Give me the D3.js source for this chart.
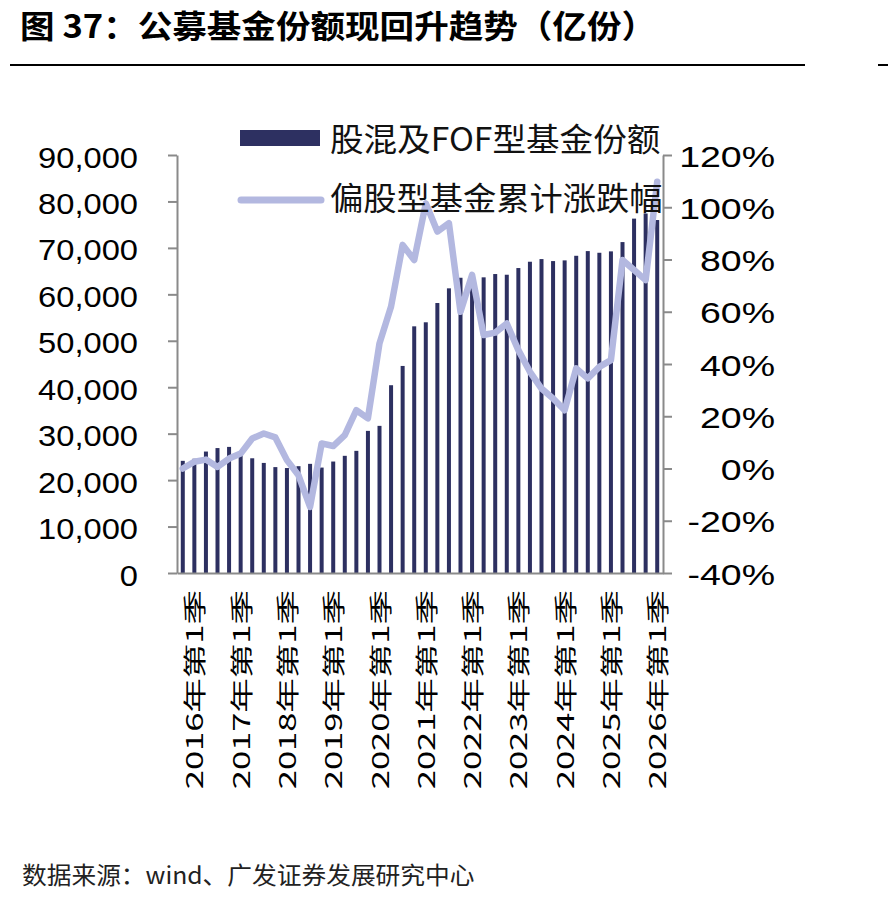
<!DOCTYPE html>
<html><head><meta charset="utf-8">
<script src="https://cdn.jsdelivr.net/npm/d3@7"></script>
<style>
html,body{margin:0;padding:0;background:#fff;}
svg{display:block;}
</style></head>
<body>
<svg id="c" width="888" height="904"></svg>
<script>
// ---- data ----
const quarters = [
 "2015年第4季",
 "2016年第1季","2016年第2季","2016年第3季","2016年第4季",
 "2017年第1季","2017年第2季","2017年第3季","2017年第4季",
 "2018年第1季","2018年第2季","2018年第3季","2018年第4季",
 "2019年第1季","2019年第2季","2019年第3季","2019年第4季",
 "2020年第1季","2020年第2季","2020年第3季","2020年第4季",
 "2021年第1季","2021年第2季","2021年第3季","2021年第4季",
 "2022年第1季","2022年第2季","2022年第3季","2022年第4季",
 "2023年第1季","2023年第2季","2023年第3季","2023年第4季",
 "2024年第1季","2024年第2季","2024年第3季","2024年第4季",
 "2025年第1季","2025年第2季","2025年第3季","2025年第4季",
 "2026年第1季"
];
const fundShares = [
 24150,24600,26150,26900,27150,25600,24700,23700,22800,22600,
 23000,23500,22700,24000,25230,26300,30600,31680,40430,44580,
 53110,53980,58130,61290,63570,64000,63660,64370,64220,65660,
 67020,67590,67160,67310,68300,69310,68950,69250,71250,76300,
 77400,76000
];
const cumReturn = [
 0,2.6,3.4,0.6,3.8,5.7,11.5,13.4,11.9,3.2,
 -2.6,-14.7,9.6,8.6,12.8,22.3,19.2,47.9,62.0,85.6,
 79.8,101.5,90.7,93.9,60.0,74.1,51.1,52.0,55.5,45.3,
 37.0,30.6,26.8,22.3,38.3,34.5,38.9,41.5,79.8,76.0,
 72.1,109.8
];
const leftTicks = [0,10000,20000,30000,40000,50000,60000,70000,80000,90000];
const leftTickLabels = ["0","10,000","20,000","30,000","40,000","50,000","60,000","70,000","80,000","90,000"];
const rightTicks = [-40,-20,0,20,40,60,80,100,120];
const rightTickLabels = ["-40%","-20%","0%","20%","40%","60%","80%","100%","120%"];
const seriesNames = ["股混及FOF型基金份额","偏股型基金累计涨跌幅"];
const titleText = "图 37：公募基金份额现回升趋势（亿份）";
const sourceText = "数据来源：wind、广发证券发展研究中心";

// ---- layout ----
const svg = d3.select("#c");
const X0 = 177, X1 = 663, YB = 573, YT = 155;
const barColor = "#2d3061", lineColor = "#b3b8e0", axisColor = "#8a8a8a";
const latin = "'Liberation Sans', Arial, sans-serif";
const cjk = "'Noto Sans CJK SC', 'Liberation Sans', sans-serif";

const x = d3.scaleBand().domain(quarters).range([X0, X1]).paddingInner(0).paddingOuter(0);
const yL = d3.scaleLinear().domain([0, 90000]).range([YB, YT]);
const yR = d3.scaleLinear().domain([-40, 120]).range([YB, YT]);

// title
svg.append("text").attr("transform", "translate(20,38) scale(1.08,1)")
  .attr("font-family", cjk).attr("font-weight", 700).attr("font-size", 32)
  .attr("fill", "#000").attr("xml:space", "preserve").text(titleText);
svg.append("line").attr("x1", 10).attr("x2", 805).attr("y1", 65).attr("y2", 65)
  .attr("stroke", "#000").attr("stroke-width", 2);
svg.append("line").attr("x1", 878).attr("x2", 888).attr("y1", 65).attr("y2", 65)
  .attr("stroke", "#000").attr("stroke-width", 2);

// bars
const bw = 4;
svg.append("g").selectAll("rect").data(fundShares).join("rect")
  .attr("x", (d, i) => x(quarters[i]) + x.bandwidth() / 2 - bw / 2)
  .attr("width", bw)
  .attr("y", d => yL(d))
  .attr("height", d => YB - yL(d))
  .attr("fill", barColor);

// axes
function styleAxis(g) {
  g.select(".domain").attr("stroke", axisColor).attr("stroke-width", 2);
  g.selectAll(".tick line").attr("stroke", axisColor).attr("stroke-width", 2);
}
const gL = svg.append("g").attr("transform", `translate(${X0},0)`)
  .call(d3.axisLeft(yL).tickValues(leftTicks).tickSize(9).tickSizeOuter(0)
    .tickFormat((d, i) => leftTickLabels[i]));
styleAxis(gL);
gL.selectAll(".tick text")
  .attr("x", null).attr("dy", null)
  .attr("transform", "translate(-39,12) scale(1.09,1)")
  .attr("font-family", latin).attr("font-size", 30).attr("fill", "#000")
  .attr("text-anchor", "end");

const gR = svg.append("g").attr("transform", `translate(${X1},0)`)
  .call(d3.axisRight(yR).tickValues(rightTicks).tickSize(9).tickSizeOuter(0)
    .tickFormat((d, i) => rightTickLabels[i]));
styleAxis(gR);
gR.selectAll(".tick text")
  .attr("x", null).attr("dy", null)
  .attr("transform", "translate(112,11) scale(1.25,1)")
  .attr("font-family", latin).attr("font-size", 30).attr("fill", "#000")
  .attr("text-anchor", "end");

const gB = svg.append("g").attr("transform", `translate(0,${YB})`)
  .call(d3.axisBottom(x).tickSize(0).tickSizeOuter(0).tickFormat(""));
gB.select(".domain").attr("stroke", axisColor).attr("stroke-width", 2);

// x labels (Q1 only)
const labelQ = quarters.filter(q => q.endsWith("第1季"));
svg.append("g").selectAll("text").data(labelQ).join("text")
  .attr("transform", d => `translate(${x(d) + x.bandwidth() / 2 + 9},590) rotate(-90) scale(1.15,0.76)`)
  .attr("text-anchor", "end")
  .attr("font-family", cjk).attr("font-size", 30).attr("fill", "#000")
  .text(d => d);

// line
const line = d3.line()
  .x((d, i) => x(quarters[i]) + x.bandwidth() / 2)
  .y(d => yR(d));
svg.append("path").datum(cumReturn)
  .attr("d", line).attr("fill", "none")
  .attr("stroke", lineColor).attr("stroke-width", 6.5)
  .attr("stroke-linejoin", "round").attr("stroke-linecap", "round");

// legend
const lg = svg.append("g");
lg.append("rect").attr("x", 240).attr("y", 130).attr("width", 80).attr("height", 16).attr("fill", barColor);
lg.append("text").attr("transform", "translate(330,151) scale(1.05,1)")
  .attr("font-family", cjk).attr("font-size", 32).attr("fill", "#111").text(seriesNames[0]);
lg.append("line").attr("x1", 241).attr("x2", 321).attr("y1", 200).attr("y2", 200)
  .attr("stroke", lineColor).attr("stroke-width", 7).attr("stroke-linecap", "round");
lg.append("text").attr("transform", "translate(330,210) scale(1.04,1)")
  .attr("font-family", cjk).attr("font-size", 32).attr("fill", "#111").text(seriesNames[1]);

// source
svg.append("text").attr("transform", "translate(22,884) scale(1.03,1)")
  .attr("font-family", cjk).attr("font-size", 24).attr("fill", "#222").text(sourceText);
</script>
</body></html>
